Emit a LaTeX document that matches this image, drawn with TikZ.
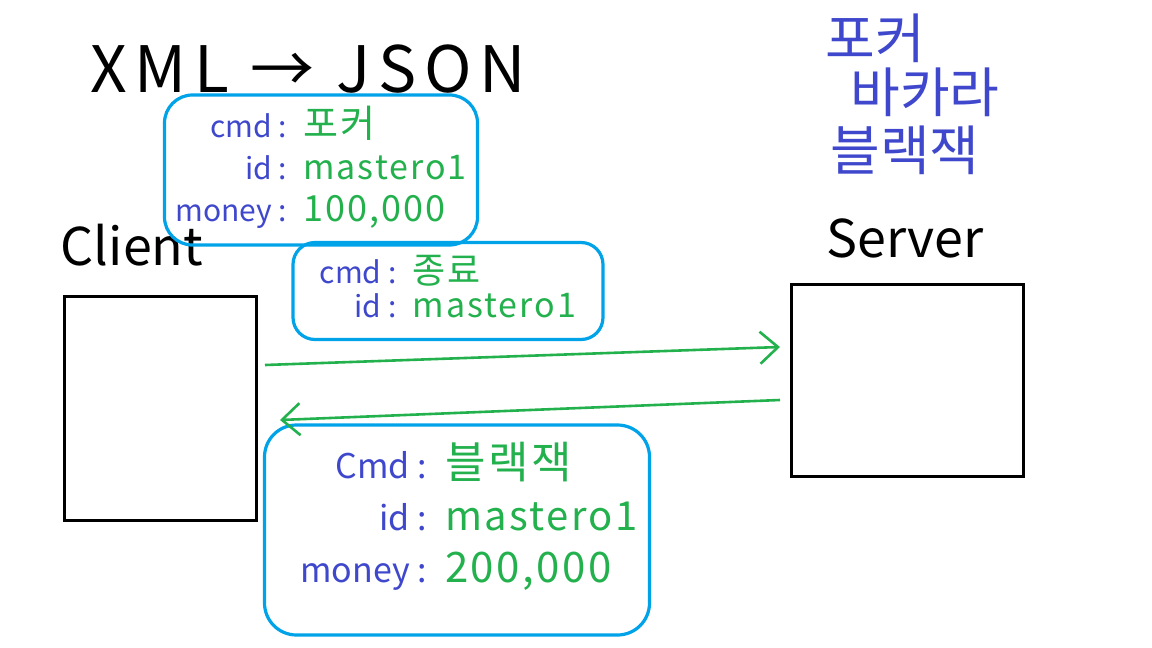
\documentclass[tikz,border=0pt]{standalone}
\usepackage{fontspec}
\setmainfont{Noto Sans CJK KR}
\usetikzlibrary{arrows.meta}
\definecolor{inkblue}{HTML}{3F48CC}
\definecolor{inkgreen}{HTML}{22B14C}
\definecolor{boxblue}{HTML}{00A2E8}
\tikzset{
  bubble/.style={draw=boxblue, line width=1.6pt, rounded corners=14pt, inner sep=0pt},
  machine/.style={draw=black, line width=1.5pt, inner sep=0pt},
  flow/.style={draw=inkgreen, line width=1.3pt, -{Straight Barb[length=9pt,width=16pt,line width=1.3pt]}},
  heading/.style={text=black, inner sep=0pt},
  menu/.style={text=inkblue, inner sep=0pt, font=\fontsize{27}{27}\selectfont},
}
\newcommand\kvrow[2]{\textcolor{inkblue}{#1}&\textcolor{inkgreen}{\addfontfeature{LetterSpace=6}#2}}
\begin{document}
\begin{tikzpicture}[x=0.5pt,y=-0.5pt]
\useasboundingbox[fill=white] (0,0) rectangle (1152,648);

% title
\node[heading, font=\fontsize{32}{32}\selectfont\addfontfeature{LetterSpace=12}] (title) at (308,69) {XML → JSON};

% menu list
\node[menu] (m1) at (875,38) {포커};
\node[menu] (m2) at (925,92) {바카라};
\node[menu] (m3) at (905,150) {블랙잭};

% client and server
\node[heading, font=\fontsize{26}{26}\selectfont] (clientlbl) at (132,245) {Client};
\node[machine, minimum width=96pt, minimum height=112pt] (client) at (160,408) {};
\node[heading, font=\fontsize{26}{26}\selectfont] (serverlbl) at (905,238) {Server};
\node[machine, minimum width=116pt, minimum height=96pt] (server) at (907,380) {};

% message bubbles
\node[bubble, minimum width=156.5pt, minimum height=75pt] (msg1) at (321,170)
  {\fontsize{15}{21}\selectfont\begin{tabular}{@{}r@{\hspace{8pt}}l@{}}
   \kvrow{cmd :}{{\fontsize{19}{21}\selectfont 포커}}\\
   \kvrow{id :}{{\fontsize{17}{21}\selectfont mastero1}}\\
   \kvrow{money :}{{\fontsize{18}{21}\selectfont 100,000}}
  \end{tabular}};

\node[bubble, rounded corners=11pt, minimum width=155pt, minimum height=48.5pt] (msg2) at (448,291)
  {\fontsize{15}{16}\selectfont\begin{tabular}{@{}r@{\hspace{8pt}}l@{}}
   \kvrow{cmd :}{{\fontsize{18}{16}\selectfont 종료}}\\
   \kvrow{id :}{{\fontsize{17}{16}\selectfont mastero1}}
  \end{tabular}};

\node[bubble, rounded corners=16pt, minimum width=192.5pt, minimum height=105pt] (msg3) at (457,530)
  {\fontsize{17}{26}\selectfont\begin{tabular}{@{\hspace{12pt}}r@{\hspace{9pt}}l@{}}
   \kvrow{Cmd :}{{\fontsize{22}{26}\selectfont 블랙잭}}\\
   \kvrow{id :}{{\fontsize{20}{26}\selectfont mastero1}}\\
   \kvrow{money :}{{\fontsize{21}{26}\selectfont 200,000}}\\[10pt]
  \end{tabular}};

% connectors
\coordinate (req0) at (265,365);
\coordinate (req1) at (780,347);
\coordinate (res0) at (780,400);
\coordinate (res1) at (280,420);
\draw[flow] (req0) -- (req1);
\draw[flow] (res0) -- (res1);
\end{tikzpicture}
\end{document}
